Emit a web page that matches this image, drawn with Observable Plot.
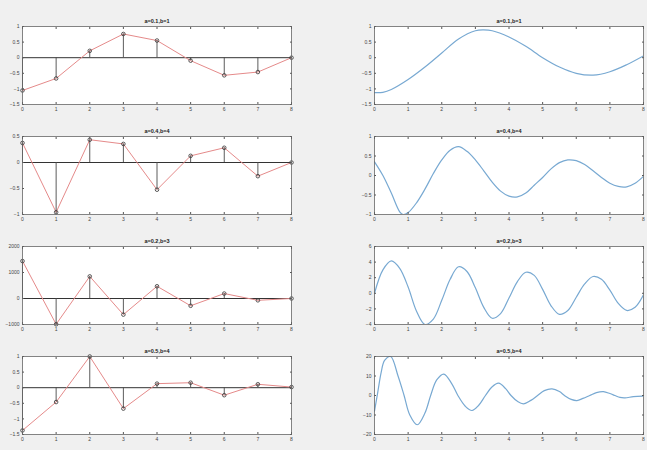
<!DOCTYPE html>
<html><head><meta charset="utf-8">
<script src="https://cdn.jsdelivr.net/npm/d3@7"></script>
<script src="https://cdn.jsdelivr.net/npm/@observablehq/plot@0.6"></script>
<style>
body{margin:0;background:#f0f0f0;}
#fig{position:relative;width:647px;height:450px;background:#f0f0f0;overflow:hidden;}
#fig svg{position:absolute;background:transparent;}
</style></head><body><div id="fig"></div>
<script>
// ---- data ----
const xTicks = [0, 1, 2, 3, 4, 5, 6, 7, 8];
const titles = ["a=0.1,b=1", "a=0.4,b=4", "a=0.2,b=3", "a=0.5,b=4"];

// left column: sampled sequences (n = 0..8)
const stem1 = [-1.05, -0.665, 0.22, 0.76, 0.55, -0.095, -0.565, -0.46, 0];
const stem2 = [0.376, -0.957, 0.438, 0.357, -0.523, 0.128, 0.283, -0.263, 0];
const stem3 = [1440, -990, 850, -620, 470, -280, 190, -70, 0];
const stem4 = [-1.37, -0.46, 1.0, -0.67, 0.13, 0.16, -0.24, 0.11, 0.02];
const leftTicks1 = [1, 0.5, 0, -0.5, -1, -1.5];
const leftTicks2 = [0.5, 0, -0.5, -1];
const leftTicks3 = [2000, 1000, 0, -1000];
const leftTicks4 = [1, 0.5, 0, -0.5, -1, -1.5];

// right column: continuous responses
const curve1T = [0, 0.25, 0.5, 1, 1.5, 2, 2.5, 3, 3.25, 3.5, 4, 4.5, 5, 5.5, 6, 6.5, 7, 7.5, 8];
const curve1V = [-1.12, -1.11, -1.02, -0.7, -0.3, 0.15, 0.6, 0.865, 0.89, 0.865, 0.665, 0.365, 0, -0.3, -0.5, -0.56, -0.45, -0.225, 0.06];
const curve2T = [0, 0.25, 0.5, 0.75, 0.85, 1, 1.25, 1.5, 1.75, 2, 2.25, 2.5, 2.75, 3, 3.25, 3.5, 3.75, 4, 4.25, 4.5, 4.75, 5, 5.25, 5.5, 5.75, 6, 6.25, 6.5, 6.75, 7, 7.25, 7.5, 7.75, 8];
const curve2V = [0.35, 0.0, -0.45, -0.93, -1.0, -0.95, -0.7, -0.35, 0.05, 0.4, 0.65, 0.74, 0.62, 0.4, 0.12, -0.17, -0.4, -0.53, -0.55, -0.45, -0.25, -0.05, 0.17, 0.33, 0.4, 0.38, 0.28, 0.12, -0.05, -0.2, -0.28, -0.29, -0.2, -0.02];
const curve3T = [0, 0.25, 0.5, 0.75, 1, 1.25, 1.5, 1.75, 2, 2.25, 2.5, 2.75, 3, 3.25, 3.5, 3.75, 4, 4.25, 4.5, 4.75, 5, 5.25, 5.5, 5.75, 6, 6.25, 6.5, 6.75, 7, 7.25, 7.5, 7.75, 8];
const curve3V = [0.0, 3.0, 4.15, 3.2, 0.8, -2.3, -4.0, -3.3, -0.9, 1.8, 3.4, 2.8, 0.7, -1.8, -3.2, -2.6, -0.6, 1.5, 2.7, 2.3, 0.5, -1.6, -2.7, -2.2, -0.5, 1.2, 2.15, 1.8, 0.4, -1.3, -2.2, -1.8, -0.2];
const curve4T = [0, 0.1, 0.2, 0.3, 0.48, 0.7, 0.88, 1.05, 1.27, 1.5, 1.67, 1.85, 2.06, 2.3, 2.48, 2.7, 2.9, 3.1, 3.3, 3.5, 3.69, 3.9, 4.06, 4.25, 4.43, 4.65, 4.85, 5.05, 5.28, 5.5, 5.65, 5.85, 6.02, 6.2, 6.4, 6.6, 6.81, 7.0, 7.15, 7.3, 7.45, 7.7, 8.0];
const curve4V = [-8, 2, 12, 18, 20, 10, 0, -10, -15, -9, 0, 8, 11, 6, 0, -5.5, -7.7, -5, 0, 4.5, 6.3, 3.5, 0, -3, -4.3, -2.5, 0, 2.5, 3.4, 2, 0, -2, -2.6, -1.5, 0, 1.5, 2.0, 1.0, 0, -1.0, -1.2, -0.6, -0.3];
const rightTicks1 = [1, 0.5, 0, -0.5, -1, -1.5];
const rightTicks2 = [1, 0.5, 0, -0.5, -1];
const rightTicks3 = [6, 4, 2, 0, -2, -4];
const rightTicks4 = [20, 10, 0, -10, -20];

// ---- layout ----
const rowTops = [26, 136, 246, 356];
const plotH = 78;
const FONT = "Liberation Sans, Arial, sans-serif";
const fmt = d => String(d).replace("-", "\u2212");

function axes(yTicks) {
  const common = {fontSize: 5, tickSize: -2, tickPadding: 5, stroke: "#555", color: "#444"};
  return [
    Plot.axisX({...common, anchor: "bottom", ticks: xTicks, label: null, tickFormat: fmt}),
    Plot.axisX({...common, anchor: "top", ticks: xTicks, label: null, tickFormat: () => ""}),
    Plot.axisY({...common, anchor: "left", ticks: yTicks, label: null, tickFormat: fmt}),
    Plot.axisY({...common, anchor: "right", ticks: yTicks, label: null, tickFormat: () => ""})
  ];
}

function place(svg, left, top) {
  svg.style.left = left + "px";
  svg.style.top = top + "px";
  document.getElementById("fig").appendChild(svg);
}

function leftPlot(vals, yTicks, title, row) {
  const data = vals.map((v, i) => ({n: xTicks[i], v}));
  const svg = Plot.plot({
    width: 320, height: plotH + 30,
    marginLeft: 22, marginRight: 29, marginTop: 16, marginBottom: 14,
    style: {fontFamily: FONT, background: "transparent"},
    x: {domain: [0, 8]},
    y: {domain: [d3.min(yTicks), d3.max(yTicks)]},
    marks: [
      Plot.frame({fill: "white", stroke: null}),
      Plot.ruleY([0], {stroke: "#333", strokeWidth: 1}),
      Plot.line(data, {x: "n", y: "v", stroke: "#e58a8a", strokeWidth: 1}),
      Plot.ruleX(data, {x: "n", y1: 0, y2: "v", stroke: "#4a4a4a", strokeWidth: 0.9}),
      Plot.dot(data, {x: "n", y: "v", r: 1.8, stroke: "#333", fill: "none", strokeWidth: 0.8}),
      ...axes(yTicks),
      Plot.frame({stroke: "#666", strokeWidth: 0.8}),
      Plot.text([title], {frameAnchor: "top", dy: -7, fontSize: 5.5, fontWeight: "bold", fill: "#222"})
    ]
  });
  place(svg, 0, rowTops[row] - 16);
}

function rightPlot(ts, vs, yTicks, title, row) {
  const data = ts.map((t, i) => ({t, v: vs[i]}));
  const svg = Plot.plot({
    width: 317, height: plotH + 30,
    marginLeft: 44, marginRight: 4, marginTop: 16, marginBottom: 14,
    style: {fontFamily: FONT, background: "transparent"},
    x: {domain: [0, 8]},
    y: {domain: [d3.min(yTicks), d3.max(yTicks)]},
    marks: [
      Plot.frame({fill: "white", stroke: null}),
      Plot.line(data, {x: "t", y: "v", curve: "catmull-rom", stroke: "#78a9d2", strokeWidth: 1.2, clip: true}),
      ...axes(yTicks),
      Plot.frame({stroke: "#666", strokeWidth: 0.8}),
      Plot.text([title], {frameAnchor: "top", dy: -7, fontSize: 5.5, fontWeight: "bold", fill: "#222"})
    ]
  });
  place(svg, 330, rowTops[row] - 16);
}

leftPlot(stem1, leftTicks1, titles[0], 0);
leftPlot(stem2, leftTicks2, titles[1], 1);
leftPlot(stem3, leftTicks3, titles[2], 2);
leftPlot(stem4, leftTicks4, titles[3], 3);
rightPlot(curve1T, curve1V, rightTicks1, titles[0], 0);
rightPlot(curve2T, curve2V, rightTicks2, titles[1], 1);
rightPlot(curve3T, curve3V, rightTicks3, titles[2], 2);
rightPlot(curve4T, curve4V, rightTicks4, titles[3], 3);
</script></body></html>
